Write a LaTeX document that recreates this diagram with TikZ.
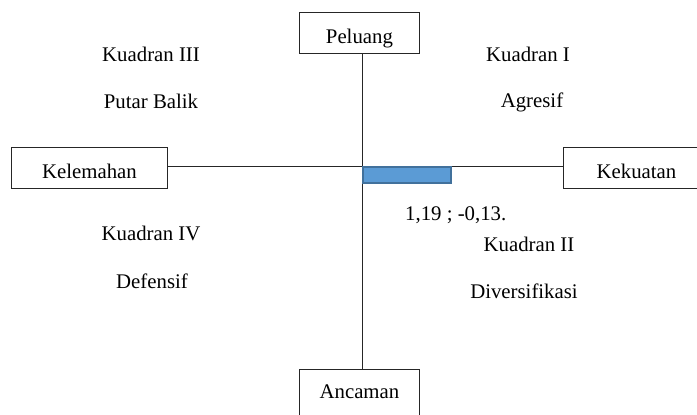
\documentclass[tikz,border=0pt]{standalone}
\usepackage{fontspec}
\setmainfont{Liberation Serif}
\usepackage{tikz}
\usetikzlibrary{positioning}
\definecolor{garis}{HTML}{262626}
\definecolor{biruIsi}{HTML}{5B9BD5}
\definecolor{biruTepi}{HTML}{41719C}

\begin{document}
\begin{tikzpicture}[
  x=1pt, y=-1pt,
  font=\fontsize{20.8}{24}\selectfont,
  kotak/.style={rectangle, draw=garis, line width=0.9pt, anchor=north west,
               inner sep=0pt, text height=31pt, text depth=10pt},
  label/.style={anchor=base, inner sep=0pt},
  sumbu/.style={draw=garis, line width=0.9pt},
]
\useasboundingbox (0,0) rectangle (697,415);
\clip (0,0) rectangle (697,415);

\node[kotak, minimum width=120pt] (peluang) at (299,12) {Peluang};
\node[kotak, minimum width=156pt] (kelemahan) at (11,147) {Kelemahan};
\node[kotak, minimum width=146pt] (kekuatan) at (563,147) {Kekuatan};
\node[kotak, minimum width=120pt, text height=29pt, text depth=30pt] (ancaman) at (299,369) {Ancaman};

\coordinate (pusat) at (362,166);

\draw[sumbu] (peluang.south -| pusat) -- (ancaman.north -| pusat);
\draw[sumbu] (kelemahan.east |- pusat) -- (kekuatan.west |- pusat);

\node[rectangle, anchor=north west, draw=biruTepi, fill=biruIsi, line width=2pt,
      minimum width=88pt, minimum height=16pt, inner sep=0pt] (titik) at (pusat) {};

\node[label] (k3) at (151,61) {Kuadran III};
\node[label] (pb) at (151,108) {Putar Balik};
\node[label] (k1) at (528,61) {Kuadran I};
\node[label] (ag) at (532,107) {Agresif};
\node[label] (k4) at (151,240) {Kuadran IV};
\node[label] (df) at (152,288) {Defensif};
\node[label] (k2) at (529,251) {Kuadran II};
\node[label] (dv) at (524,298) {Diversifikasi};
\node[label, anchor=base west] (nilai) at (405,220) {1,19 ; -0,13.};

\end{tikzpicture}
\end{document}
